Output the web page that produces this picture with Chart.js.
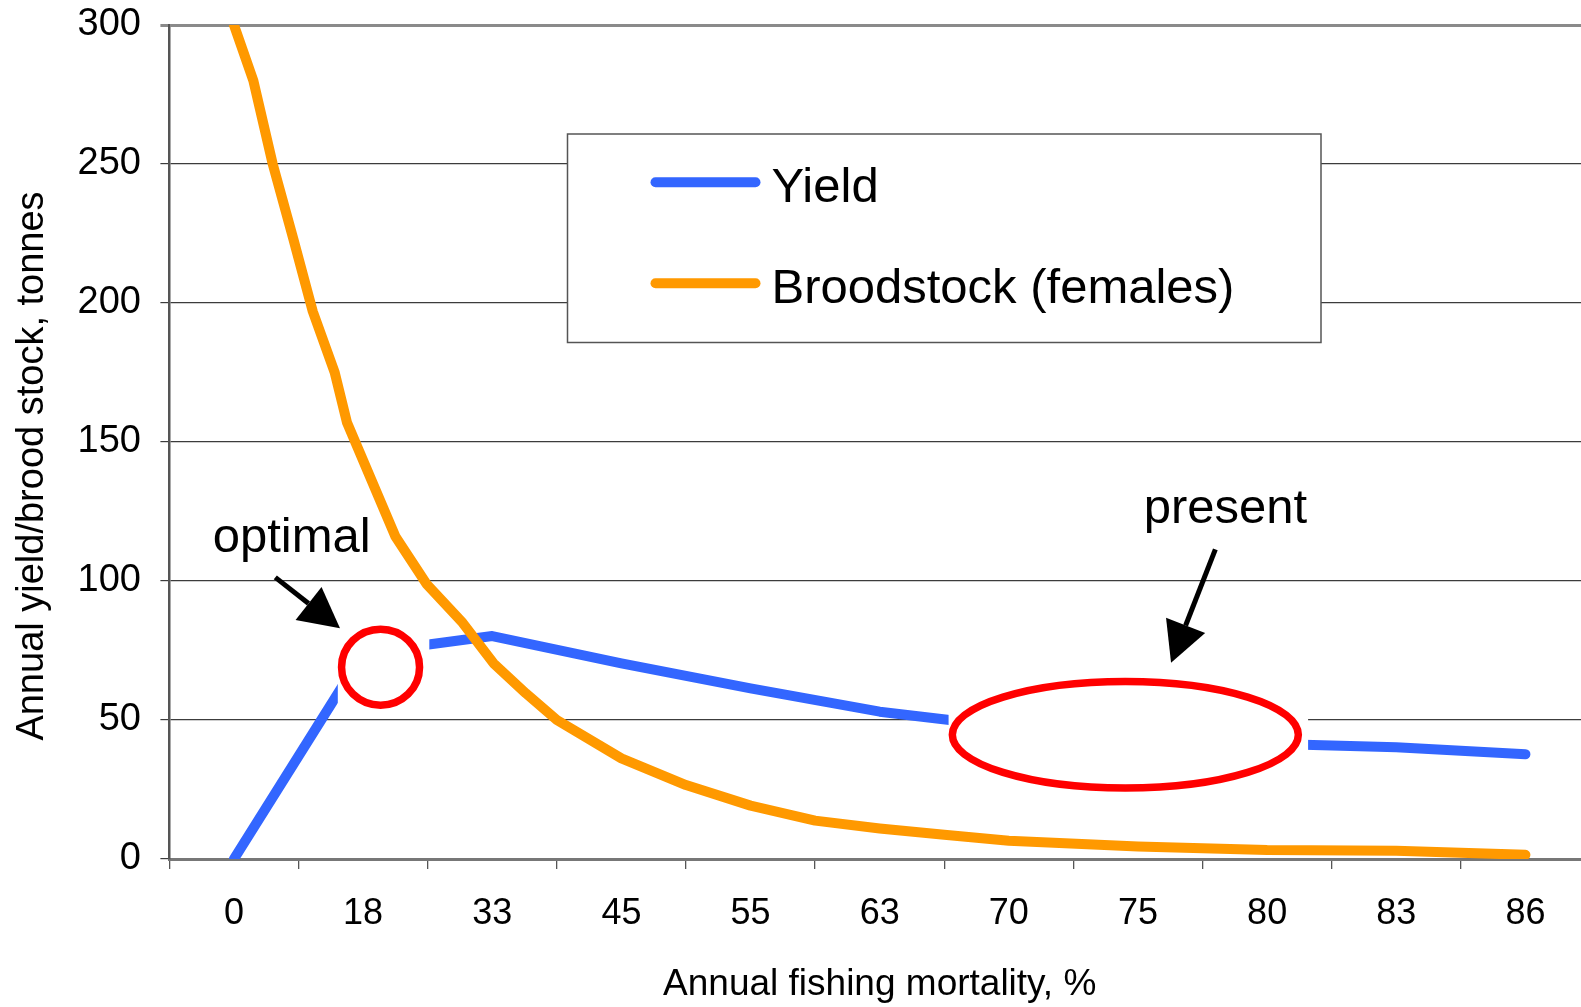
<!DOCTYPE html>
<html><head><meta charset="utf-8">
<script src="https://cdn.jsdelivr.net/npm/chart.js@4.4.0/dist/chart.umd.min.js"></script>
<style>
html,body{margin:0;padding:0;background:#fff;overflow:hidden;}
#wrap{position:relative;width:1590px;height:1007px;}
</style></head><body>
<div id="wrap"><canvas id="c"></canvas></div>
<script>
// ---- data ----
const categories = ['0','18','33','45','55','63','70','75','80','83','86'];
const yieldValues = [0, 74, 80.2, 70.4, 61.4, 53.0, 47.5, 44, 41.5, 40.2, 37.7];
// broodstock curve: positions along the category axis (category index units) and values
const broodX = [0, 0.15, 0.30, 0.46, 0.61, 0.78, 0.875, 1.25, 1.49, 1.77, 2.01, 2.26, 2.5, 3, 3.5, 4, 4.5, 5, 5.5, 6, 7, 8, 9, 10];
const broodValues = [300, 280, 250, 223, 197, 175, 157, 116, 99, 85, 70.4, 59.6, 50, 36.2, 26.6, 19.2, 13.8, 11.0, 8.7, 6.6, 4.5, 3.2, 3.0, 1.5];
const yTicks = [0, 50, 100, 150, 200, 250, 300];
const seriesNames = ['Yield', 'Broodstock (females)'];
const xTitle = 'Annual fishing mortality, %';
const yTitle = 'Annual yield/brood stock, tonnes';
const noteTexts = ['optimal', 'present'];

const FONT = "'Liberation Sans', Arial, sans-serif";

// annotations anchored in data units (category index, value)
const rings = [
  {cx: 1.135, cy: 69.0, rx: 39, ry: 38, lw: 7.5, extraRight: 6},
  {cx: 6.902, cy: 44.7, rx: 173, ry: 53.3, lw: 7.5, extraRight: 6}
];
const arrows = [
  {x1: 0.320, y1: 101.3, x2: 0.821, y2: 83.0},
  {x1: 7.599, y1: 111.4, x2: 7.256, y2: 70.6}
];
const labels = [
  {x: -0.165, y: 110.5, text: noteTexts[0]},
  {x: 7.044, y: 121.0, text: noteTexts[1]}
];

function toPx(chart, cx, cy) {
  return {x: chart.scales.xl.getPixelForValue(cx), y: chart.scales.y.getPixelForValue(cy)};
}
function drawArrow(ctx, x1, y1, x2, y2, headLen, headHalf, lw) {
  const a = Math.atan2(y2 - y1, x2 - x1);
  const bx = x2 - headLen * Math.cos(a), by = y2 - headLen * Math.sin(a);
  ctx.beginPath(); ctx.moveTo(x1, y1); ctx.lineTo(bx, by);
  ctx.lineWidth = lw; ctx.strokeStyle = '#000'; ctx.lineCap = 'butt'; ctx.stroke();
  ctx.beginPath(); ctx.moveTo(x2, y2);
  ctx.lineTo(bx + headHalf * Math.sin(a), by - headHalf * Math.cos(a));
  ctx.lineTo(bx - headHalf * Math.sin(a), by + headHalf * Math.cos(a));
  ctx.closePath(); ctx.fillStyle = '#000'; ctx.fill();
}

const notesPlugin = {
  id: 'notes',
  afterDatasetsDraw(chart) {
    const ctx = chart.ctx;
    ctx.save();
    rings.forEach(r => {
      const c = toPx(chart, r.cx, r.cy);
      const ox = r.rx + r.lw / 2, oy = r.ry + r.lw / 2;
      ctx.fillStyle = '#fff';
      ctx.fillRect(c.x - ox, c.y - oy, 2 * ox + r.extraRight, 2 * oy);
      ctx.beginPath();
      ctx.ellipse(c.x, c.y, r.rx, r.ry, 0, 0, Math.PI * 2);
      ctx.lineWidth = r.lw; ctx.strokeStyle = '#ff0000'; ctx.stroke();
    });
    arrows.forEach(a => {
      const p1 = toPx(chart, a.x1, a.y1), p2 = toPx(chart, a.x2, a.y2);
      drawArrow(ctx, p1.x, p1.y, p2.x, p2.y, 40, 21, 5);
    });
    ctx.fillStyle = '#000';
    ctx.font = '49px ' + FONT;
    ctx.textAlign = 'left'; ctx.textBaseline = 'alphabetic';
    labels.forEach(l => {
      const p = toPx(chart, l.x, l.y);
      ctx.fillText(l.text, p.x, p.y);
    });
    // legend box
    const box = {x: 567.5, y: 134, w: 753.5, h: 208.5};
    ctx.fillStyle = '#fff';
    ctx.fillRect(box.x, box.y, box.w, box.h);
    ctx.lineWidth = 1.5; ctx.strokeStyle = '#555';
    ctx.strokeRect(box.x, box.y, box.w, box.h);
    chart.data.datasets.forEach((ds, i) => {
      const ly = box.y + 48.3 + i * 101;
      ctx.beginPath();
      ctx.moveTo(box.x + 88, ly); ctx.lineTo(box.x + 188, ly);
      ctx.lineWidth = 10; ctx.lineCap = 'round'; ctx.strokeStyle = ds.borderColor; ctx.stroke();
      ctx.fillStyle = '#000';
      ctx.font = '49px ' + FONT;
      ctx.fillText(ds.label, box.x + 204, ly + 19.4);
    });
    ctx.restore();
  },
  afterDraw(chart) {
    const ctx = chart.ctx;
    ctx.save();
    ctx.translate(33, 466);
    ctx.rotate(-Math.PI / 2);
    ctx.font = '38px ' + FONT;
    ctx.fillStyle = '#000';
    ctx.textAlign = 'center'; ctx.textBaseline = 'middle';
    ctx.fillText(yTitle, 0, 0);
    ctx.restore();
  }
};

new Chart(document.getElementById('c'), {
  type: 'line',
  data: {
    labels: categories,
    datasets: [
      {
        label: seriesNames[0],
        data: yieldValues.map((v, i) => ({x: i, y: v})),
        xAxisID: 'xl', yAxisID: 'y',
        borderColor: '#3366ff', backgroundColor: '#3366ff',
        borderWidth: 10, pointRadius: 0, tension: 0,
        borderCapStyle: 'round', borderJoinStyle: 'round',
        clip: 0, order: 1
      },
      {
        label: seriesNames[1],
        data: broodX.map((x, i) => ({x: x, y: broodValues[i]})),
        xAxisID: 'xl', yAxisID: 'y',
        borderColor: '#ff9900', backgroundColor: '#ff9900',
        borderWidth: 10, pointRadius: 0, tension: 0,
        borderCapStyle: 'round', borderJoinStyle: 'round',
        clip: 0, order: 0
      }
    ]
  },
  options: {
    responsive: true, maintainAspectRatio: false, animation: false,
    layout: {padding: {top: 25, right: 0, left: 0, bottom: 0}},
    plugins: {legend: {display: false}, tooltip: {enabled: false}},
    scales: {
      x: {
        type: 'category', position: 'bottom', offset: true,
        grid: {display: true, drawOnChartArea: false, drawTicks: true, tickLength: 10, color: '#555', lineWidth: 1.3, offset: true},
        border: {display: true, color: '#777', width: 3},
        ticks: {font: {family: FONT, size: 36}, color: '#000', padding: 23, maxRotation: 0, autoSkip: false},
        title: {display: true, text: xTitle, font: {family: FONT, size: 37}, color: '#000', padding: {top: 0, bottom: 0}},
        afterFit(s) { s.height = 148; s.paddingLeft = 0; s.paddingRight = 0; }
      },
      xl: {type: 'linear', min: -0.5, max: 10.5, display: false},
      y: {
        type: 'linear', min: 0, max: 300,
        afterBuildTicks(s) { s.ticks = yTicks.map(v => ({value: v})); },
        grid: {
          drawTicks: true, tickLength: 9,
          color: c => (c.tick && c.tick.value === 300) ? '#8a8a8a' : '#3c3c3c',
          lineWidth: c => (c.tick && c.tick.value === 300) ? 3 : 1.2
        },
        border: {display: true, color: '#555', width: 2.5},
        ticks: {font: {family: FONT, size: 38}, color: '#000', padding: 19.4},
        afterFit(s) { s.width = 169.4; s.paddingTop = 0; s.paddingBottom = 0; }
      }
    }
  },
  plugins: [notesPlugin]
});
</script>
</body></html>
